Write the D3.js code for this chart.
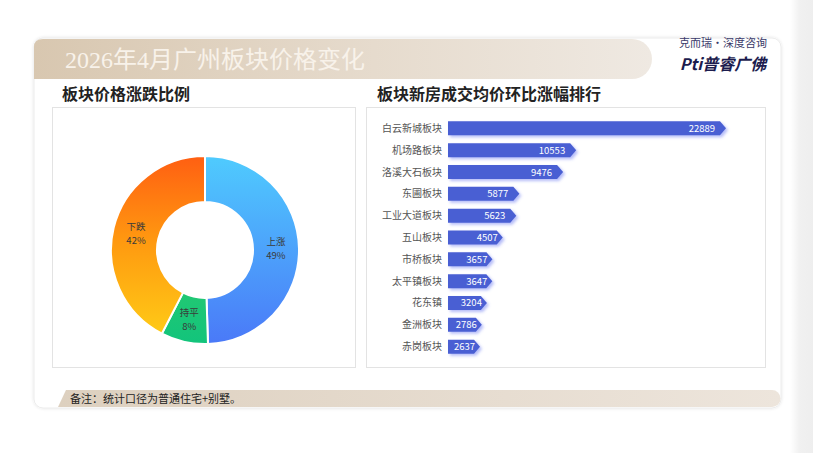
<!DOCTYPE html>
<html><head><meta charset="utf-8">
<script src="https://cdn.jsdelivr.net/npm/d3@7"></script>
<style>
html,body{margin:0;padding:0;background:#fff;}
svg{display:block;font-family:"Noto Sans CJK SC","Noto Sans",sans-serif;}
</style></head>
<body>
<svg id="c" width="813" height="453"></svg>
<script>
const pageTitle = "2026年4月广州板块价格变化";
const leftTitle = "板块价格涨跌比例";
const rightTitle = "板块新房成交均价环比涨幅排行";
const footNote = "备注：统计口径为普通住宅+别墅。";

const pieNames = ["上涨", "持平", "下跌"];
const pieValues = [49, 8, 42];
const pieLabels = ["49%", "8%", "42%"];

const barNames = ["白云新城板块","机场路板块","洛溪大石板块","东圃板块","工业大道板块","五山板块","市桥板块","太平镇板块","花东镇","金洲板块","赤岗板块"];
const barValues = [22889,10553,9476,5877,5623,4507,3657,3647,3204,2786,2637];

const svg = d3.select("#c");
const defs = svg.append("defs");

function lin(id, stops, x1, y1, x2, y2, user) {
  const g = defs.append("linearGradient").attr("id", id)
    .attr("x1", x1).attr("y1", y1).attr("x2", x2).attr("y2", y2);
  if (user) g.attr("gradientUnits", "userSpaceOnUse");
  stops.forEach(s => g.append("stop").attr("offset", s[0]).attr("stop-color", s[1]));
}
const cx = 205, cy = 250, rOut = 94, rIn = 48;
lin("hdr", [[0, "#d8c7b0"], [0.55, "#e6dbcd"], [1, "#efe9e2"]], "0", "0", "1", "0");
lin("ftr", [[0, "#ddd0bf"], [1, "#ede5dc"]], "0", "0", "1", "0");
lin("side", [[0, "#ffffff"], [0.4, "#f1f1f1"], [1, "#eeeeee"]], "0", "0", "1", "0");
lin("gUp", [[0, "#4fcbfe"], [1, "#4a79f8"]], 0, 156 - cy, 0, 344 - cy, true);
lin("gDown", [[0, "#ff5f12"], [0.5, "#ff9a10"], [1, "#ffc816"]], 0, 156 - cy, 0, 330 - cy, true);
lin("gFlat", [[0, "#22c872"], [1, "#12c47c"]], 0, 290 - cy, 0, 344 - cy, true);

const sh = defs.append("filter").attr("id", "bshadow").attr("x", "-10%").attr("y", "-50%").attr("width", "130%").attr("height", "220%");
sh.append("feDropShadow").attr("dx", 2).attr("dy", 2).attr("stdDeviation", 1.6)
  .attr("flood-color", "#5a6cf0").attr("flood-opacity", 0.45);
const cs = defs.append("filter").attr("id", "cshadow").attr("x", "-5%").attr("y", "-5%").attr("width", "110%").attr("height", "110%");
cs.append("feDropShadow").attr("dx", 0).attr("dy", 0).attr("stdDeviation", 1.5)
  .attr("flood-color", "#000").attr("flood-opacity", 0.12);

// right side strip
svg.append("rect").attr("x", 790).attr("y", 0).attr("width", 23).attr("height", 453).attr("fill", "url(#side)");

// card
svg.append("rect").attr("x", 34).attr("y", 38).attr("width", 747).attr("height", 370)
  .attr("rx", 9).attr("fill", "#fff").attr("stroke", "#ececec").attr("filter", "url(#cshadow)");

// header band
svg.append("path").attr("d", "M34,47 Q34,39 43,39 L632,39 A20,20 0 0 1 632,79 L34,79 Z").attr("fill", "url(#hdr)");
svg.append("text").attr("x", 65).attr("y", 68)
  .attr("font-family", "'Liberation Serif','DejaVu Serif','Noto Sans CJK SC',serif")
  .attr("font-size", 24).attr("fill", "#f8f2ea").text(pageTitle);

// logo
svg.append("text").attr("x", 723).attr("y", 47).attr("text-anchor", "middle")
  .attr("font-size", 11).attr("fill", "#3a3a6a").text("克而瑞·深度咨询");
const lg = svg.append("text").attr("x", 723).attr("y", 70).attr("text-anchor", "middle")
  .attr("font-size", 16).attr("font-weight", "bold").attr("font-style", "italic").attr("fill", "#1c1c4e");
lg.append("tspan").text("Pti");
lg.append("tspan").text("普睿广佛");

// section titles
svg.append("text").attr("x", 62).attr("y", 100).attr("font-size", 16).attr("font-weight", "bold")
  .attr("fill", "#222").text(leftTitle);
svg.append("text").attr("x", 377).attr("y", 100).attr("font-size", 16).attr("font-weight", "bold")
  .attr("fill", "#222").text(rightTitle);

// panels
svg.append("rect").attr("x", 52.5).attr("y", 107.5).attr("width", 303).attr("height", 260)
  .attr("fill", "#fff").attr("stroke", "#e3e3e3");
svg.append("rect").attr("x", 366.5).attr("y", 107.5).attr("width", 399).attr("height", 260)
  .attr("fill", "#fff").attr("stroke", "#e3e3e3");

// footer band
svg.append("path").attr("d", "M66,390 L772,390 A8.5,8.5 0 0 1 772,407 L58,407 Z").attr("fill", "url(#ftr)");
svg.append("text").attr("x", 70).attr("y", 403).attr("font-size", 11).attr("fill", "#222").text(footNote);

// donut
const pieData = pieNames.map((n, i) => ({ name: n, value: pieValues[i], label: pieLabels[i] }));
const pie = d3.pie().sort(null).value(d => d.value);
const arc = d3.arc().innerRadius(rIn).outerRadius(rOut);
const labelArc = d3.arc().innerRadius(71).outerRadius(71);
const fills = { "上涨": "url(#gUp)", "持平": "url(#gFlat)", "下跌": "url(#gDown)" };
const arcs = pie(pieData);
const dg = svg.append("g").attr("transform", `translate(${cx},${cy})`);
dg.selectAll("path").data(arcs).join("path")
  .attr("d", arc)
  .attr("fill", d => fills[d.data.name])
  .attr("stroke", "#fff").attr("stroke-width", 2).attr("stroke-linejoin", "round");

dg.selectAll("text.pn").data(arcs).join("text").attr("class", "pn")
  .attr("x", d => labelArc.centroid(d)[0]).attr("y", d => labelArc.centroid(d)[1] - 3.5)
  .attr("text-anchor", "middle").attr("font-size", 9.5).attr("fill", "#3a3a3a").text(d => d.data.name);
dg.selectAll("text.pv").data(arcs).join("text").attr("class", "pv")
  .attr("x", d => labelArc.centroid(d)[0]).attr("y", d => labelArc.centroid(d)[1] + 10.5)
  .attr("text-anchor", "middle").attr("font-size", 9.5).attr("fill", "#3a3a3a").text(d => d.data.label);

// bars
const x = d3.scaleLinear().domain([0, d3.max(barValues)]).range([448, 726]);
const y = d3.scaleBand().domain(barNames).range([117, 358]).paddingInner(0.36).paddingOuter(0.2);
const bh = y.bandwidth();
const bg = svg.append("g");
const barData = barNames.map((n, i) => ({ name: n, value: barValues[i] }));
const tip = 6;
bg.selectAll("path").data(barData).join("path")
  .attr("d", d => {
    const x0 = x(0), x1 = x(d.value), y0 = y(d.name), y1 = y0 + bh;
    return `M${x0},${y0}L${x1 - tip},${y0}L${x1},${y0 + bh / 2}L${x1 - tip},${y1}L${x0},${y1}Z`;
  })
  .attr("fill", "#4a5fd3").attr("filter", "url(#bshadow)");
bg.selectAll("text.v").data(barData).join("text").attr("class", "v")
  .attr("x", d => x(d.value) - (d.value > 5000 ? 11 : 5)).attr("y", d => y(d.name) + bh / 2 + 3.5)
  .attr("text-anchor", "end").attr("font-size", 9.5).attr("fill", "#fff").text(d => d.value);
bg.selectAll("text.n").data(barData).join("text").attr("class", "n")
  .attr("x", 442).attr("y", d => y(d.name) + bh / 2 + 3.5)
  .attr("text-anchor", "end").attr("font-size", 10).attr("fill", "#555").text(d => d.name);
</script>
</body></html>
